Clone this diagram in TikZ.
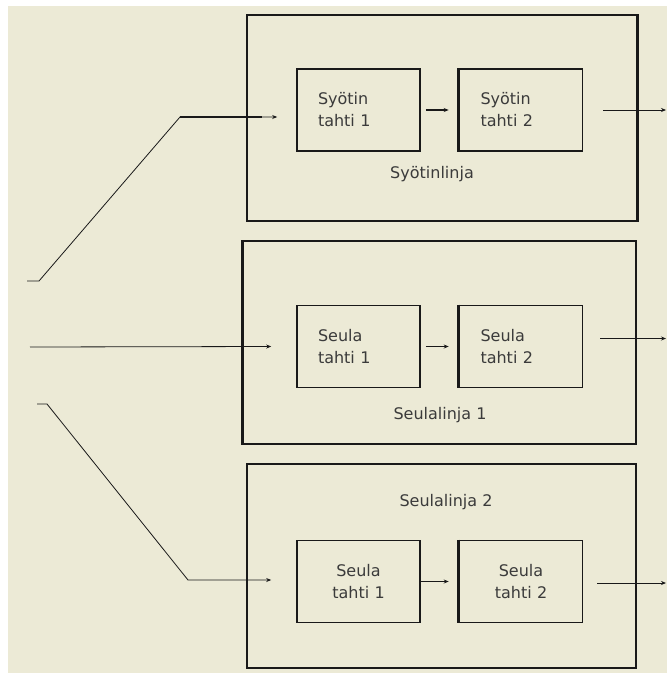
\documentclass[tikz,border=0pt]{standalone}
\usepackage{fontspec}
\setmainfont{DejaVu Sans}
\usetikzlibrary{arrows.meta}
\definecolor{paper}{RGB}{236,234,214}
\definecolor{ink}{RGB}{25,25,25}
\tikzset{
  linebox/.style={draw=ink, line width=1.6pt, inner sep=0pt},
  stagebox/.style={draw=ink, line width=1.6pt, minimum width=123pt, minimum height=82pt,
    inner xsep=21pt, text width=81pt, align=left, text=ink!85, font=\fontsize{16}{22}\selectfont},
  caption/.style={text=ink!85, font=\fontsize{16}{19}\selectfont},
  flow/.style={draw=ink, line width=0.8pt, -{Stealth[length=5pt,width=4pt]}},
  thickedge/.style={draw=ink, line width=3pt}
}
\begin{document}
\begin{tikzpicture}[x=1pt,y=-1pt]
\useasboundingbox (0,0) rectangle (667,675);
\fill[paper] (8,6) rectangle (667,673);

% Syotinlinja
\node[linebox, minimum width=390pt, minimum height=206pt] (syot) at (442,118) {};
\draw[thickedge] (syot.north east) -- (syot.south east);
\node[stagebox] (s11) at (358.5,110) {Syötin\\tahti 1};
\node[stagebox] (s12) at (521,110) {Syötin\\tahti 2};
\draw[thickedge] (s12.north west) -- (s12.south west);
\node[caption] (syotcap) at (432,174) {Syötinlinja};

% Seulalinja 1
\node[linebox, minimum width=393pt, minimum height=203pt] (seul1) at (439.5,342.5) {};
\draw[thickedge] (seul1.north west) -- (seul1.south west);
\node[stagebox] (s21) at (358.5,346.5) {Seula\\tahti 1};
\node[stagebox] (s22) at (521,346.5) {Seula\\tahti 2};
\draw[thickedge] (s22.north west) -- (s22.south west);
\node[caption] (seul1cap) at (440,415) {Seulalinja 1};

% Seulalinja 2
\node[linebox, minimum width=389pt, minimum height=204pt] (seul2) at (441.5,566) {};
\node[stagebox, align=center] (s31) at (358.5,581.5) {Seula\\tahti 1};
\node[stagebox, align=center] (s32) at (521,581.5) {Seula\\tahti 2};
\draw[thickedge] (s32.north west) -- (s32.south west);
\node[caption] (seul2cap) at (446,502) {Seulalinja 2};

% inputs
\coordinate (in1) at (27,281);
\coordinate (in2) at (30,347);
\coordinate (in3) at (37,404);
\coordinate (out) at (666,0);
\draw[flow] (in1) -- ++(12,0) -- (180,117) -- ([xshift=-19pt,yshift=-7pt]s11.west);
\draw[ink, line width=1.6pt] (180,117) -- (262,117);
\draw[flow] (in2) -- ([xshift=-25pt]s21.west);
\draw[flow] (in3) -- ++(10,0) -- (188,580) -- ([xshift=-25pt,yshift=1.5pt]s31.west);

% between stages
\draw[flow, line width=1.4pt, shorten <=5pt, shorten >=10pt] (s11.east) -- (s12.west);
\draw[flow, shorten <=5pt, shorten >=10pt] (s21.east) -- (s22.west);
\draw[flow, line width=1.4pt, shorten >=10pt] (s31.east) -- (s32.west);

% outputs
\draw[flow, shorten <=20pt] (s12.east) -- (s12.east -| out);
\draw[flow, shorten <=17pt] ([yshift=8pt]s22.east) -- ([yshift=8pt]s22.east -| out);
\draw[flow, shorten <=14pt] ([yshift=-1.5pt]s32.east) -- ([yshift=-1.5pt]s32.east -| out);
\end{tikzpicture}
\end{document}
